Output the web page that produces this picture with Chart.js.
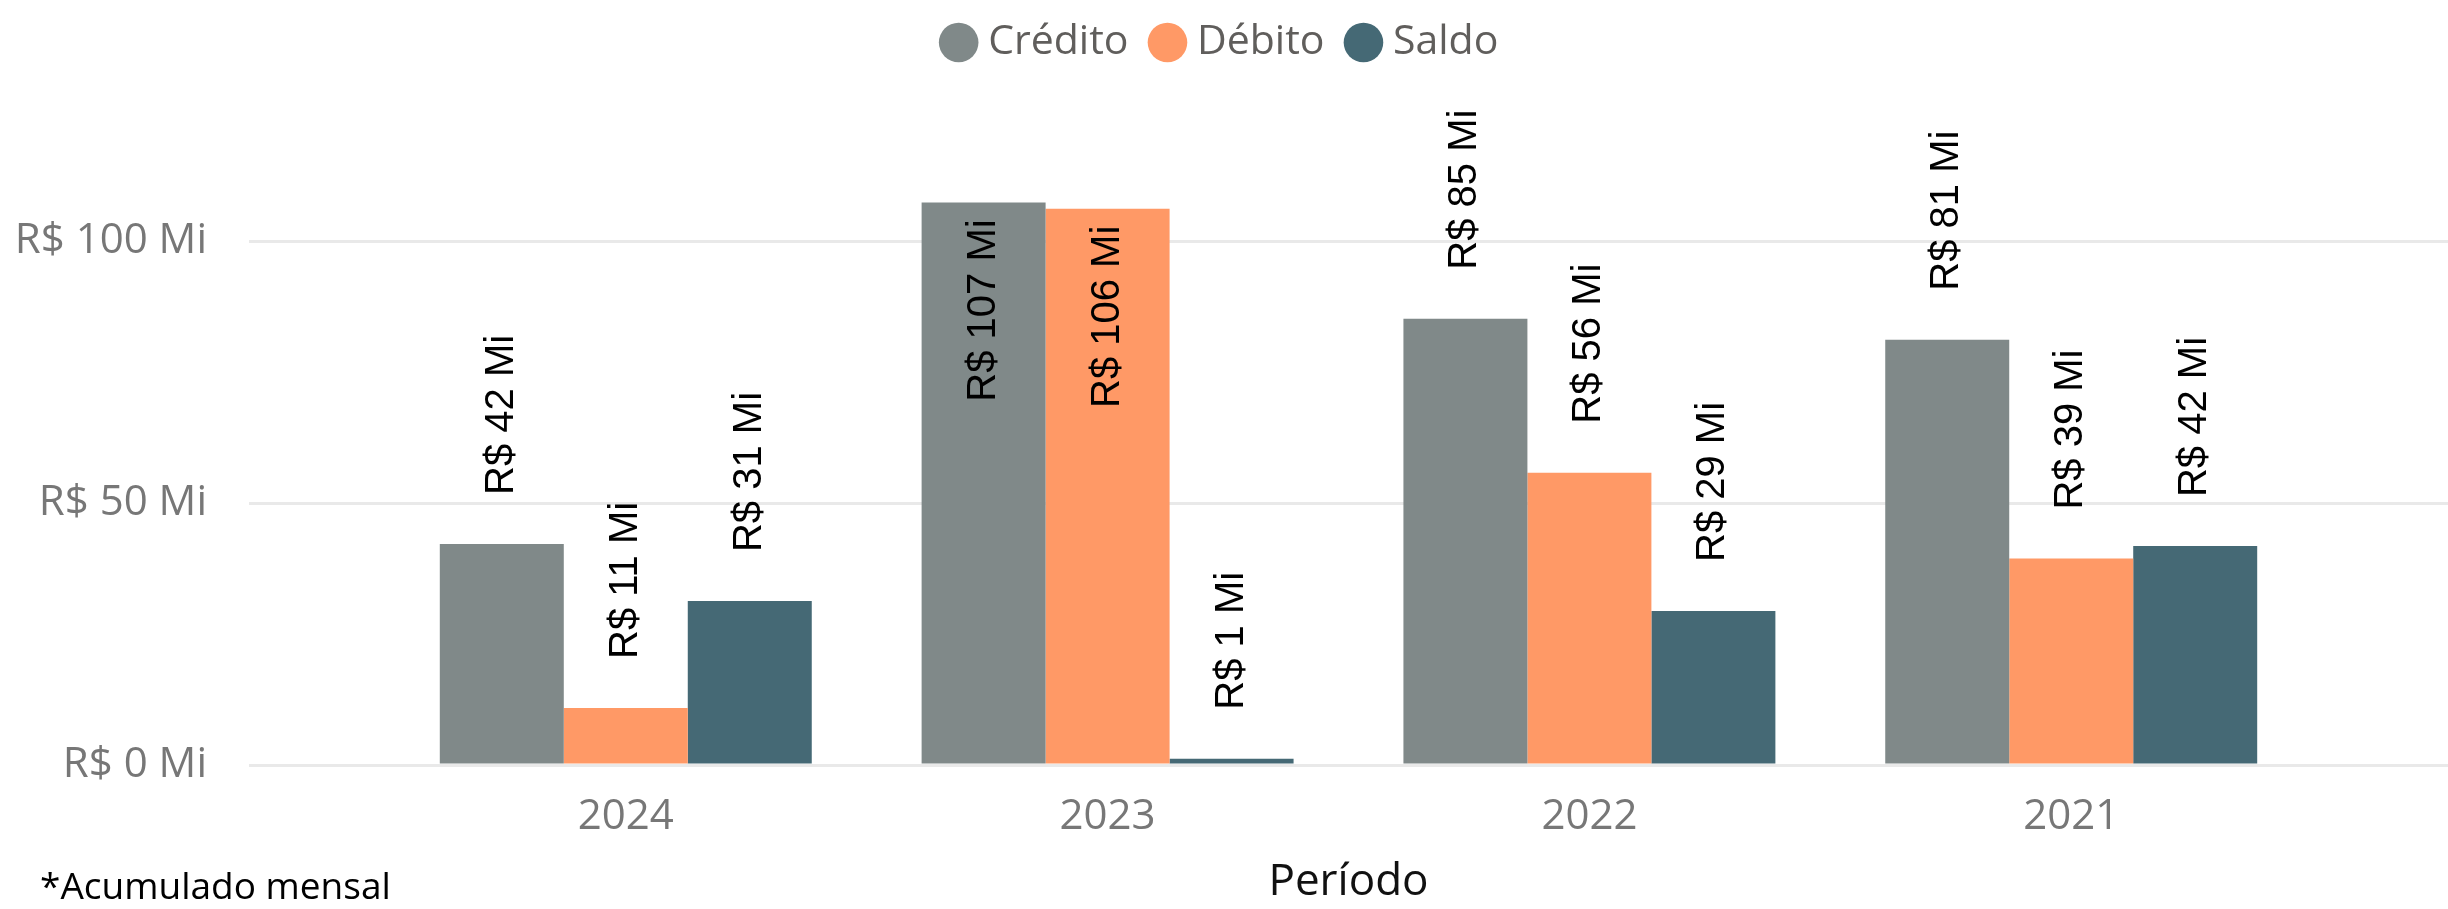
<!DOCTYPE html>
<html>
<head>
<meta charset="utf-8">
<script src="https://cdn.jsdelivr.net/npm/chart.js@4.4.1/dist/chart.umd.min.js"></script>
<style>
    html, body { margin: 0; padding: 0; background: #fff; }
    #wrap { width: 2448px; height: 909px; position: relative; }
</style>
</head>
<body>
<div id="wrap"><canvas id="PeriodoChart"></canvas></div>
<script>
// valores em milhões de R$
var anos = [2024, 2023, 2022, 2021];
var credito = [42.2, 107.4, 85.2, 81.2];
var debito = [10.9, 106.2, 55.8, 39.4];
var saldo = [31.3, 1.2, 29.4, 41.8];
var ticksY = [0, 50, 100];

var fonte = '"Open Sans", "Noto Sans", sans-serif';

// rótulos verticais acima (ou dentro) das barras
var rotulos = {
    id: 'rotulos',
    afterDatasetsDraw: function (chart) {
        var ctx = chart.ctx;
        ctx.save();
        ctx.font = '40px "Liberation Sans", Arial, sans-serif';
        ctx.fillStyle = '#000';
        ctx.textBaseline = 'middle';
        chart.data.datasets.forEach(function (ds, i) {
            chart.getDatasetMeta(i).data.forEach(function (bar, j) {
                var txt = 'R$ ' + Math.round(ds.data[j]) + ' Mi';
                var w = ctx.measureText(txt).width;
                ctx.save();
                ctx.translate(bar.x, 0);
                ctx.rotate(-Math.PI / 2);
                if (bar.y - 49 - w < chart.chartArea.top) {
                    ctx.textAlign = 'right';
                    ctx.fillText(txt, -(bar.y + 17), 0);
                } else {
                    ctx.textAlign = 'left';
                    ctx.fillText(txt, -(bar.y - 49), 0);
                }
                ctx.restore();
            });
        });
        ctx.restore();
    }
};

var nota = {
    id: 'nota',
    afterDraw: function (chart) {
        var ctx = chart.ctx;
        ctx.save();
        ctx.font = '37px ' + fonte;
        ctx.fillStyle = '#000';
        ctx.textBaseline = 'alphabetic';
        ctx.textAlign = 'left';
        ctx.fillText('*Acumulado mensal', 40, 899);
        ctx.restore();
    }
};

var ctx = document.getElementById('PeriodoChart').getContext('2d');
var chart = new Chart(ctx, {
    type: 'bar',
    data: {
        labels: anos,
        datasets: [
            { label: 'Crédito', data: credito, backgroundColor: '#808989' },
            { label: 'Débito', data: debito, backgroundColor: '#FF9966' },
            { label: 'Saldo', data: saldo, backgroundColor: '#456975' }
        ]
    },
    options: {
        responsive: true,
        maintainAspectRatio: false,
        animation: false,
        devicePixelRatio: 1,
        layout: { padding: { top: -8, left: 0, right: 0, bottom: 0 } },
        datasets: {
            bar: { categoryPercentage: 0.772, barPercentage: 1 }
        },
        plugins: {
            tooltip: { enabled: false },
            legend: {
                position: 'top',
                labels: {
                    usePointStyle: true,
                    pointStyle: 'circle',
                    boxWidth: 18,
                    boxHeight: 28,
                    padding: 30,
                    color: '#605E5C',
                    font: { family: fonte, size: 41 }
                }
            }
        },
        scales: {
            x: {
                type: 'linear',
                reverse: true,
                offset: false,
                min: 2020.218,
                max: 2024.782,
                afterBuildTicks: function (scale) {
                    scale.ticks = anos.map(function (v) { return { value: v }; });
                },
                afterFit: function (scale) { scale.height = 144; },
                grid: { display: false },
                border: { display: false },
                ticks: {
                    padding: 19,
                    maxRotation: 0,
                    color: '#777',
                    font: { family: fonte, size: 42 },
                    callback: function (v) { return String(v); }
                },
                title: {
                    display: true,
                    text: 'Período',
                    color: '#111',
                    padding: 0,
                    font: { family: fonte, size: 44 }
                }
            },
            y: {
                min: 0,
                max: 132.1,
                afterBuildTicks: function (scale) {
                    scale.ticks = ticksY.map(function (v) { return { value: v }; });
                },
                afterFit: function (scale) { scale.width = 249; },
                border: { display: false },
                grid: { color: '#E9E9E9', lineWidth: 3, drawTicks: false },
                ticks: {
                    padding: 42,
                    color: '#777',
                    font: { family: fonte, size: 42 },
                    callback: function (v) { return 'R$ ' + v + ' Mi'; }
                }
            }
        }
    },
    plugins: [rotulos, nota]
});
</script>
</body>
</html>
